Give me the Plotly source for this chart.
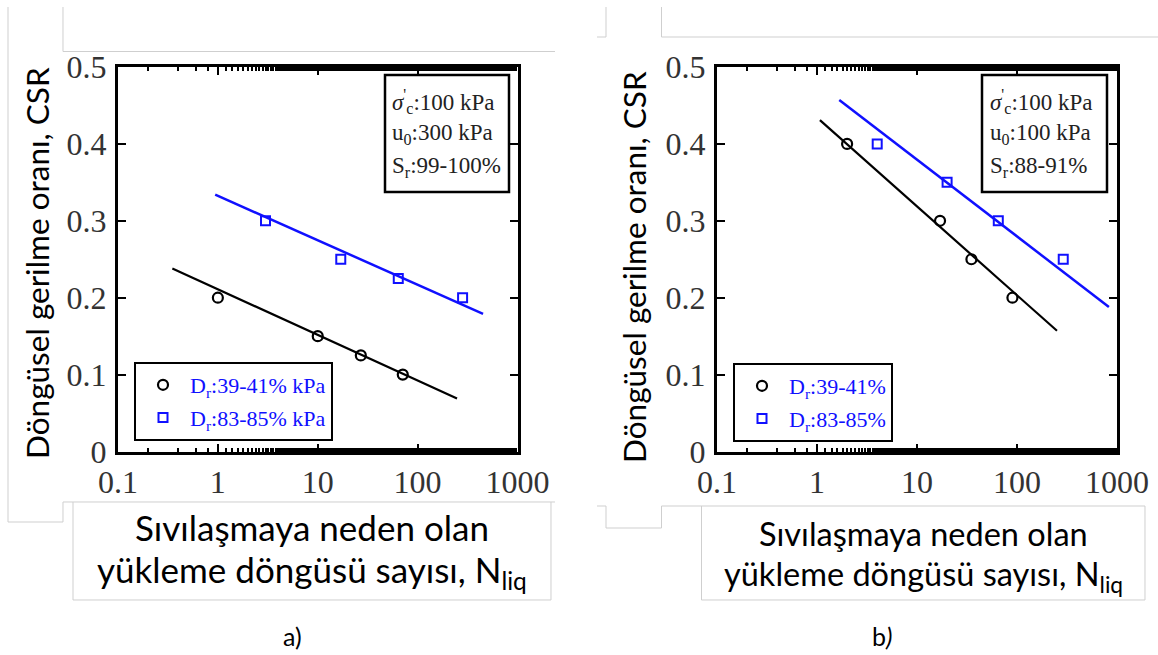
import plotly.graph_objects as go

W, H = 1158, 655

# ---- panel a) : sigma'c = 100 kPa, u0 = 300 kPa, Sr = 99-100 %
a_loose_n = [1.0, 10.0, 27.0, 71.0]
a_loose_csr = [0.20, 0.15, 0.125, 0.10]
a_dense_n = [3.0, 17.0, 64.0, 282.0]
a_dense_csr = [0.30, 0.25, 0.225, 0.20]
a_loose_fit_n = [0.35, 248.0]
a_loose_fit_csr = [0.238, 0.069]
a_dense_fit_n = [0.94, 452.0]
a_dense_fit_csr = [0.334, 0.179]

# ---- panel b) : sigma'c = 100 kPa, u0 = 100 kPa, Sr = 88-91 %
b_loose_n = [2.0, 17.0, 35.0, 90.0]
b_loose_csr = [0.40, 0.30, 0.25, 0.20]
b_dense_n = [4.0, 20.0, 65.0, 290.0]
b_dense_csr = [0.40, 0.35, 0.30, 0.25]
b_loose_fit_n = [1.07, 251.0]
b_loose_fit_csr = [0.431, 0.157]
b_dense_fit_n = [1.67, 830.0]
b_dense_fit_csr = [0.457, 0.188]

x_tickvals = [0.1, 1, 10, 100, 1000]
x_ticktext = ["0.1", "1", "10", "100", "1000"]
y_tickvals = [0, 0.1, 0.2, 0.3, 0.4, 0.5]
y_ticktext = ["0", "0.1", "0.2", "0.3", "0.4", "0.5"]

a_legend = ["D<sub>r</sub>:39-41% kPa", "D<sub>r</sub>:83-85% kPa"]
b_legend = ["D<sub>r</sub>:39-41%", "D<sub>r</sub>:83-85%"]
a_info = ["<i>σ</i><sup>'</sup><sub>c</sub>:100 kPa", "u<sub>0</sub>:300 kPa", "S<sub>r</sub>:99-100%"]
b_info = ["<i>σ</i><sup>'</sup><sub>c</sub>:100 kPa", "u<sub>0</sub>:100 kPa", "S<sub>r</sub>:88-91%"]
y_title = "Döngüsel gerilme oranı, CSR"
x_title_1 = "Sıvılaşmaya neden olan"
x_title_2 = "yükleme döngüsü sayısı, N<sub>liq</sub>"

SERIF = "Liberation Serif, Times New Roman, serif"
SANS = "Lato, Open Sans, sans-serif"
BLUE = "#1010ff"


def px(x):
    return x / W


def py(y):
    return 1 - y / H


fig = go.Figure()

panels = [
    ("x", "y", "legend", a_loose_n, a_loose_csr, a_dense_n, a_dense_csr,
     a_loose_fit_n, a_loose_fit_csr, a_dense_fit_n, a_dense_fit_csr, a_legend),
    ("x2", "y2", "legend2", b_loose_n, b_loose_csr, b_dense_n, b_dense_csr,
     b_loose_fit_n, b_loose_fit_csr, b_dense_fit_n, b_dense_fit_csr, b_legend),
]
for (xa, ya, leg, ln, lc, dn, dc, lfn, lfc, dfn, dfc, names) in panels:
    fig.add_trace(go.Scatter(x=lfn, y=lfc, mode="lines", xaxis=xa, yaxis=ya,
                             line=dict(color="black", width=2.2), showlegend=False))
    fig.add_trace(go.Scatter(x=dfn, y=dfc, mode="lines", xaxis=xa, yaxis=ya,
                             line=dict(color=BLUE, width=2.5), showlegend=False))
    fig.add_trace(go.Scatter(x=ln, y=lc, mode="markers", xaxis=xa, yaxis=ya, name=names[0],
                             legend=leg, legendgroup=leg + "a",
                             marker=dict(symbol="circle-open", size=10, color="black",
                                         line=dict(width=2.2, color="black"))))
    fig.add_trace(go.Scatter(x=dn, y=dc, mode="markers", xaxis=xa, yaxis=ya, name=names[1],
                             legend=leg, legendgroup=leg + "b",
                             marker=dict(symbol="square-open", size=9, color=BLUE,
                                         line=dict(width=2, color=BLUE))))

xaxis_style = dict(
    type="log", range=[-1, 3], tickvals=x_tickvals, ticktext=x_ticktext,
    ticks="inside", ticklen=8, tickwidth=2, tickcolor="black",
    minor=dict(ticks="inside", ticklen=4, tickwidth=1.5, tickcolor="black", showgrid=False),
    showline=True, linewidth=3, linecolor="black", mirror="ticks",
    showgrid=False, zeroline=False, automargin=False,
    tickfont=dict(family=SERIF, size=32, color="#333333"), ticklabelstandoff=0,
)
yaxis_style = dict(
    range=[0, 0.5], tickvals=y_tickvals, ticktext=y_ticktext,
    ticks="inside", ticklen=8, tickwidth=2, tickcolor="black",
    showline=True, linewidth=3, linecolor="black", mirror="ticks",
    showgrid=False, zeroline=False, automargin=False,
    tickfont=dict(family=SERIF, size=32, color="#333333"), ticklabelstandoff=2,
)

legend_style = dict(xanchor="left", yanchor="top", bordercolor="black", borderwidth=2,
                    bgcolor="white", font=dict(family=SERIF, size=22, color=BLUE),
                    tracegroupgap=1, itemwidth=44)

fig.update_layout(
    template="none",
    width=W, height=H, autosize=False, margin=dict(l=0, r=0, t=0, b=0, pad=0),
    paper_bgcolor="white", plot_bgcolor="white",
    xaxis=dict(domain=[px(118), px(517.5)], anchor="y", **xaxis_style),
    yaxis=dict(domain=[py(451.5), py(67)], anchor="x", **yaxis_style),
    xaxis2=dict(domain=[px(717), px(1117)], anchor="y2", **xaxis_style),
    yaxis2=dict(domain=[py(451.5), py(67)], anchor="x2", **yaxis_style),
    legend=dict(x=px(134), y=py(362), **legend_style),
    legend2=dict(x=px(733), y=py(363), **legend_style),
)

annotations = []
shapes = []

# info boxes (top-right inside each plot)
for (bx0, bx1, tx, lines) in [(385, 509, 390, a_info), (982, 1107, 988, b_info)]:
    shapes.append(dict(type="rect", xref="paper", yref="paper",
                       x0=px(bx0), x1=px(bx1), y0=py(192), y1=py(75),
                       line=dict(color="black", width=2.5), fillcolor="white"))
    for yy, t in zip([101, 134, 167], lines):
        annotations.append(dict(xref="paper", yref="paper", x=px(tx), y=py(yy),
                                xanchor="left", yanchor="middle", showarrow=False, text=t,
                                font=dict(family=SERIF, size=23, color="#222222")))

# axis titles
for (ycx, ycy, xcx, l1y, l2y, xs) in [(37, 263, 312, 527, 571, 35),
                                      (634, 267, 923, 533, 576, 32.5)]:
    annotations.append(dict(xref="paper", yref="paper", x=px(ycx), y=py(ycy),
                            textangle=-90, showarrow=False, text=y_title,
                            xanchor="center", yanchor="middle",
                            font=dict(family=SANS, size=31.5, color="black")))
    annotations.append(dict(xref="paper", yref="paper", x=px(xcx), y=py(l1y),
                            showarrow=False, text=x_title_1, xanchor="center", yanchor="middle",
                            font=dict(family=SANS, size=xs, color="black")))
    annotations.append(dict(xref="paper", yref="paper", x=px(xcx), y=py(l2y),
                            showarrow=False, text=x_title_2, xanchor="center", yanchor="middle",
                            font=dict(family=SANS, size=xs, color="black")))

annotations.append(dict(xref="paper", yref="paper", x=px(293), y=py(636), showarrow=False,
                        xanchor="center", yanchor="middle",
                        text="a)", font=dict(family=SANS, size=25, color="black")))
annotations.append(dict(xref="paper", yref="paper", x=px(882), y=py(636), showarrow=False,
                        xanchor="center", yanchor="middle",
                        text="b<i>)</i>", font=dict(family=SANS, size=25, color="black")))

# light frame outlines around the text boxes
frame_paths = [
    [(8, 7), (8, 522), (63, 522), (63, 502), (555, 502)],
    [(63, 7), (63, 51.5), (555, 51.5)],
    [(73, 502), (73, 600), (551, 600), (551, 502)],
    [(606, 7), (606, 37), (597, 37)],
    [(661.5, 7), (661.5, 37), (1158, 37)],
    [(597, 506), (606, 506), (606, 528), (661.5, 528), (661.5, 506), (1145, 506)],
    [(701.5, 506), (701.5, 600), (1145, 600), (1145, 506)],
]
for pts in frame_paths:
    d = "M " + " L ".join(f"{px(x):.5f},{py(y):.5f}" for x, y in pts)
    shapes.append(dict(type="path", xref="paper", yref="paper", path=d,
                       line=dict(color="#cfcfcf", width=1), layer="below"))

fig.update_layout(annotations=annotations, shapes=shapes)

fig.write_html("out.html")
